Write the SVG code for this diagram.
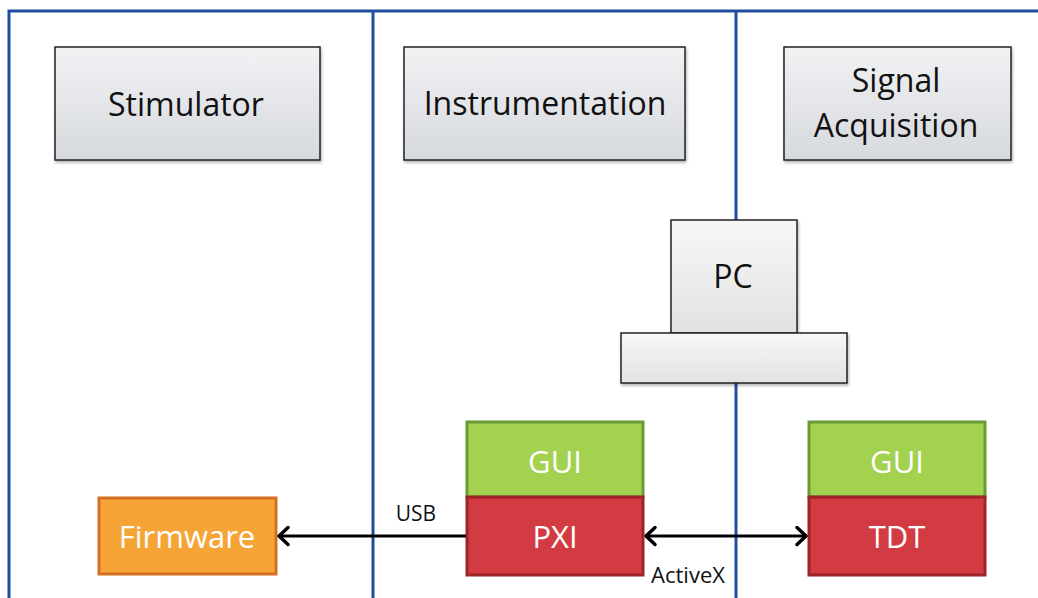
<svg xmlns="http://www.w3.org/2000/svg" width="1038" height="598" viewBox="0 0 1038 598">
<defs>
<linearGradient id="gGray" x1="0" y1="0" x2="0" y2="1"><stop offset="0" stop-color="#f1f2f4"/><stop offset="1" stop-color="#d6d9dd"/></linearGradient>
<linearGradient id="gLight" x1="0" y1="0" x2="0" y2="1"><stop offset="0" stop-color="#f7f7f7"/><stop offset="1" stop-color="#e2e2e2"/></linearGradient>
<filter id="sh" x="-10%" y="-10%" width="130%" height="130%"><feDropShadow dx="1" dy="2" stdDeviation="1.5" flood-color="#000" flood-opacity="0.3"/></filter>
<marker id="ah" viewBox="0 0 16 22" refX="13" refY="11" markerWidth="16" markerHeight="22" markerUnits="userSpaceOnUse" orient="auto-start-reverse"><path d="M4,2.5 L13,11 L4,19.5" fill="none" stroke="#000" stroke-width="3.5" stroke-linecap="round" stroke-linejoin="round"/></marker>
</defs>
<style>
.hdr{fill:url(#gGray);stroke:#222;stroke-width:1.5;filter:url(#sh)}
.pc{fill:url(#gLight);stroke:#222;stroke-width:1.5;filter:url(#sh)}
.t{font-family:"Open Sans","Noto Sans",sans-serif;text-anchor:middle}
.big{font-size:32px;fill:#111}
.w{font-size:31px;fill:#fff}
.sm{font-size:21px;fill:#111}
.gui{fill:#a3d150;stroke:#6a9a35;stroke-width:3}
.red{fill:#d33b42;stroke:#9c2529;stroke-width:3}
.fw{fill:#f5a435;stroke:#d56f20;stroke-width:3}
.lane{stroke:#1f4e9c;stroke-width:3;fill:none}
.conn{stroke:#000;stroke-width:3;fill:none}
</style>
<rect x="0" y="0" width="1038" height="598" fill="#fff"/>
<rect id="frame" x="9" y="11" width="1040" height="600" fill="#f8f9fb" class="lane"/>
<line class="lane" x1="373" y1="11" x2="373" y2="598"/>
<line class="lane" x1="736" y1="11" x2="736" y2="598"/>
<g id="stimulator"><rect class="hdr" x="55" y="47" width="265" height="113"/><text class="t big" x="186" y="116">Stimulator</text></g>
<g id="instrumentation"><rect class="hdr" x="404" y="47" width="281" height="113"/><text class="t big" x="545" y="115">Instrumentation</text></g>
<g id="signal"><rect class="hdr" x="784" y="47" width="227" height="113"/><text class="t big" x="896" y="92">Signal</text><text class="t big" x="896" y="137">Acquisition</text></g>
<g id="pc"><rect class="pc" x="671" y="220" width="126" height="113"/><text class="t big" x="733" y="288">PC</text></g>
<g id="pcbase"><rect class="pc" x="621" y="333" width="226" height="50"/></g>
<g id="gui1"><rect class="gui" x="467" y="422" width="176" height="75"/><text class="t w" x="555" y="473">GUI</text></g>
<g id="pxi"><rect class="red" x="467" y="497" width="176" height="78"/><text class="t w" x="555" y="548">PXI</text></g>
<g id="gui2"><rect class="gui" x="809" y="422" width="176" height="75"/><text class="t w" x="897" y="473">GUI</text></g>
<g id="tdt"><rect class="red" x="809" y="497" width="176" height="78"/><text class="t w" x="897" y="548">TDT</text></g>
<g id="firmware"><rect class="fw" x="99" y="498" width="177" height="76"/><text class="t w" x="187" y="548">Firmware</text></g>
<g id="connectors">
<line class="conn" x1="466" y1="536" x2="279" y2="536" marker-end="url(#ah)"/>
<line class="conn" x1="646" y1="536" x2="806" y2="536" marker-start="url(#ah)" marker-end="url(#ah)"/>
<text class="t sm" x="416" y="521">USB</text>
<text class="t sm" x="688" y="583" style="font-size:22px">ActiveX</text>
</g>
</svg>
